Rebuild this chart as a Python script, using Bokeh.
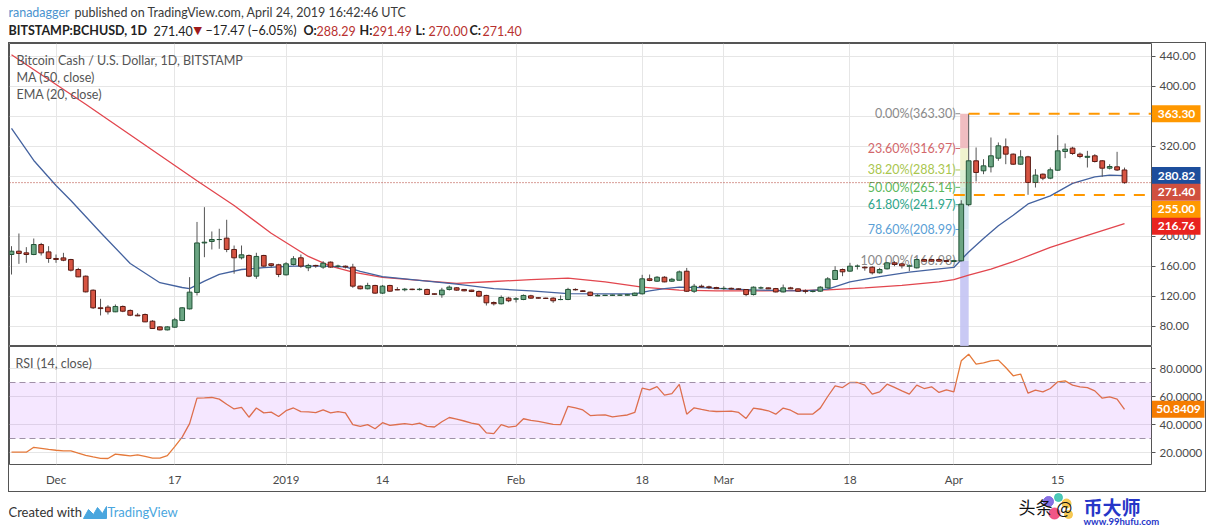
from bokeh.plotting import figure
from bokeh.layouts import column
from bokeh.models import (ColumnDataSource, Range1d, FixedTicker, Grid, Span, GridBox,
                          NumeralTickFormatter, BoxAnnotation)
from bokeh.core.properties import value
from bokeh.embed import file_html
from bokeh.resources import INLINE

# ---------------- data (daily candles, 2018-11-25 .. 2019-04-24) ----------------
opens = [175.6,180.0,177.8,175.6,188.9,179.1,170.3,171.1,168.9,155.6,
         146.7,128.0,104.5,105.4,99.2,106.3,101.0,94.7,95.6,86.7,
         79.1,75.1,78.7,87.6,103.1,125.0,191.0,193.0,195.5,197.4,
         182.3,171.2,174.3,146.7,174.3,163.2,161.9,148.5,162.3,171.2,
         157.9,161.0,158.8,165.4,160.0,160.0,158.8,133.4,129.9,134.3,
         124.1,134.3,128.8,128.6,129.4,128.8,129.0,123.2,121.9,129.0,
         131.2,129.0,128.1,126.3,121.0,111.6,109.9,117.4,116.1,115.6,
         120.5,117.9,117.4,117.4,115.5,115.6,129.0,127.2,125.4,120.5,
         121.0,121.2,121.4,121.4,121.0,123.2,143.2,140.0,145.3,140.0,
         141.3,153.3,126.6,133.3,132.5,131.5,130.2,130.5,129.7,128.9,
         122.2,131.0,131.1,130.2,125.7,131.1,129.8,127.1,126.3,126.7,
         131.1,142.3,155.6,153.4,160.0,158.7,158.7,151.2,156.5,164.5,
         163.1,160.0,157.8,168.9,168.9,168.9,167.5,166.3,167.2,242.0,
         300.5,287.2,292.5,304.0,319.2,309.4,296.0,305.8,271.6,282.7,
         277.4,288.0,313.0,317.4,309.4,305.2,307.2,300.5,290.7,292.5,
         288.29]
highs = [186.7,203.6,185.4,196.9,191.1,186.7,175.6,177.8,169.8,157.8,
         147.6,129.0,116.5,108.0,109.0,107.6,102.3,97.4,96.9,88.0,
         80.0,80.0,91.1,105.4,145.4,219.0,238.7,206.3,209.9,221.9,
         187.6,187.6,175.6,177.9,175.2,164.0,163.2,165.4,173.4,175.6,
         163.2,161.9,166.7,166.3,162.0,161.0,163.2,134.3,137.9,135.2,
         135.0,135.2,132.0,131.0,130.0,131.0,130.0,123.5,131.2,134.3,
         132.1,129.5,128.5,127.6,121.9,113.0,121.0,119.2,118.7,122.3,
         121.9,118.5,118.0,118.7,121.0,131.2,130.5,128.0,126.0,123.0,
         121.8,122.0,122.0,122.5,125.0,148.5,148.9,146.7,146.7,144.4,
         154.2,157.7,136.4,135.5,134.0,132.5,133.3,131.5,130.5,129.5,
         133.0,133.0,131.5,131.0,135.5,132.5,130.5,129.0,128.0,133.4,
         145.4,160.0,156.9,164.5,162.3,160.0,160.0,157.8,165.4,166.7,
         164.5,162.3,170.3,170.0,170.0,170.5,168.5,168.5,248.0,363.3,
         318.3,302.7,331.6,325.0,330.3,310.3,314.7,307.2,289.4,283.6,
         291.6,334.7,323.6,319.2,311.6,313.8,309.4,301.4,296.0,312.5,
         291.49]
lows = [148.9,163.1,164.5,174.7,174.3,164.5,164.5,166.7,153.0,145.4,
        125.0,103.0,94.3,95.6,98.7,98.7,93.4,93.4,85.4,76.5,
        74.3,74.3,77.8,86.7,102.3,121.0,172.0,182.3,183.2,178.7,
        150.0,169.0,145.4,143.2,159.2,158.3,145.4,147.6,161.0,157.9,
        153.4,157.9,156.5,157.9,157.5,157.0,131.2,129.0,129.0,123.2,
        123.0,125.9,128.0,126.5,128.0,127.5,121.8,122.0,117.9,127.6,
        127.2,126.5,125.5,118.7,107.6,107.6,109.0,112.1,111.6,114.7,
        116.5,116.8,116.5,111.2,114.7,114.7,127.5,125.8,120.0,120.0,
        120.2,120.5,120.8,121.0,120.5,122.3,140.0,139.0,138.6,139.0,
        140.9,125.7,124.4,131.0,129.5,129.5,128.5,129.2,128.5,120.0,
        121.0,129.5,129.5,125.0,125.0,129.5,126.0,123.6,125.0,125.8,
        130.2,142.0,146.7,152.5,155.6,154.0,148.9,150.2,155.6,160.0,
        157.0,153.4,157.0,165.5,166.0,166.0,165.5,165.5,166.3,240.0,
        273.0,282.7,285.0,300.5,296.0,295.0,295.2,255.2,264.9,274.7,
        276.0,287.0,304.0,308.5,304.0,291.6,298.3,279.2,289.0,287.0,
        270.0]
closes = [180.0,177.0,175.6,188.9,177.8,170.3,169.0,168.0,154.7,145.8,
          125.8,104.5,103.5,99.2,106.3,100.0,94.7,93.8,85.8,76.9,
          75.1,79.1,88.5,104.5,125.4,191.0,192.0,195.6,195.6,182.3,
          171.2,175.2,146.7,173.0,160.1,161.0,149.0,163.2,169.9,160.1,
          161.0,160.5,164.0,158.8,160.1,159.0,133.4,129.9,134.3,124.1,
          133.4,126.7,128.4,129.4,128.8,129.3,122.3,122.6,128.1,132.1,
          128.1,127.2,126.3,120.1,111.2,109.9,118.3,113.9,116.5,121.0,
          117.4,117.4,117.0,113.9,115.6,129.0,128.5,126.3,121.0,120.8,
          121.2,121.4,121.4,121.9,124.1,143.2,141.0,145.3,139.1,142.6,
          152.4,126.6,133.3,132.5,131.5,130.0,130.5,129.7,129.3,122.2,
          132.0,131.1,129.8,125.7,131.1,129.8,126.6,126.5,126.7,132.0,
          143.1,154.3,152.5,160.0,160.1,157.8,151.2,155.6,164.5,162.3,
          160.5,160.5,168.9,166.7,166.7,166.7,166.3,167.4,242.7,300.5,
          285.0,293.8,307.2,320.5,309.4,296.0,305.8,271.6,281.4,277.4,
          288.5,313.8,316.0,310.3,306.3,306.5,299.6,290.7,292.9,288.3,
          271.4]

# MA(50) and EMA(20) at sample days
ma_idx = [0,5,10,15,20,25,30,35,40,43,46,50,55,60,65,70,75,80,85,90,95,100,
          105,110,115,120,125,127,129,132,135,140,145,150]
ma_val = [442,409,376,342,308,274,241,204,173,160,152,145,141,137,139.6,142,144,
          139,132,128,127,127,127.5,128.5,131,134.5,139,142,148,156,166,185,201,216.76]
ema_idx = [0,3,6,8,12,16,20,23,24,26,28,31,34,38,42,45,47,50,55,60,65,70,75,80,
           84,86,88,90,93,97,100,104,107,110,113,117,121,125,127,129,131,133,135,
           137,140,143,146,148,150]
ema_val = [343.7,301,267.6,247.6,205,163.6,138,131.6,130,140,149,155.6,158,160,160,
           159,153,146,141,136,130,127,123.5,123,123,127,130,132,131.5,129.5,128.5,
           127.5,127,129.5,139,146,152,156.5,158.3,179,197,214,228,243,253.8,270.5,
           279,281.5,280.82]

# RSI(14) daily values
rsi = [20.2,20.2,20.2,23.7,23.0,22.2,21.6,21.2,21.1,19.5,
       18.0,16.8,15.8,15.7,18.8,18.2,17.6,18.3,17.2,16.0,
       16.0,17.8,24.2,31.0,40.6,58.8,59.0,59.3,58.1,54.5,
       51.1,52.3,45.2,51.8,48.3,48.8,45.7,49.9,51.8,49.2,
       49.0,48.5,50.4,48.3,49.2,48.3,39.9,38.7,39.9,37.0,
       41.3,39.4,40.0,40.6,39.9,41.0,38.7,38.2,42.0,45.0,
       43.8,42.5,41.0,40.0,34.0,33.5,39.9,38.2,38.9,44.1,
       43.0,42.2,41.2,40.1,39.9,53.0,51.8,50.4,46.4,46.7,
       46.9,45.5,46.2,46.8,48.6,66.0,64.8,67.1,61.0,62.1,
       68.6,47.4,51.9,50.8,49.8,49.3,49.4,49.5,48.6,44.3,
       51.7,50.9,49.8,47.4,51.7,50.2,47.4,47.4,47.5,51.7,
       60.0,67.6,66.4,70.0,70.0,68.1,61.7,63.3,68.8,66.5,
       64.0,61.7,68.1,65.7,66.9,62.9,64.8,63.3,85.5,90.2,
       83.1,84.0,85.5,86.0,80.7,74.8,76.0,62.4,64.5,63.3,
       65.7,70.5,71.2,68.1,66.9,66.4,64.0,58.8,59.8,58.1,
       50.84]

tick_idx = [6, 22, 37, 50, 68, 85, 96, 113, 127, 141]
tick_labels = ["Dec", "17", "2019", "14", "Feb", "18", "Mar", "18", "Apr", "15"]
price_ticks = [80, 120, 160, 200, 240, 280, 320, 360, 400, 440]
rsi_ticks = [20, 40, 60, 80]

fib_pct = ["0.00%", "23.60%", "38.20%", "50.00%", "61.80%", "78.60%", "100.00%"]
fib_price = [363.30, 316.97, 288.31, 265.14, 241.97, 208.99, 166.98]
fib_text_colors = ["#8a8a8a", "#d2676b", "#a9c64e", "#5cb85c", "#2ea58a", "#5b9fd6", "#8a8a8a"]
fib_band_colors = ["#eeb6ba", "#eef2c9", "#d7eed0", "#cdeadb", "#d0e6ee", "#d6e1f6"]

support_price = 255.00
resistance_price = 363.30
last_close = 271.40
last_ema = 280.82
last_ma = 216.76
last_rsi = 50.8409

# price-axis value tags: value, colour, downward shift (px) to avoid overlap
tag_values = [resistance_price, last_ema, last_close, support_price, last_ma]
tag_colors = ["#ff9800", "#1d4e9c", "#d0503f", "#ff9800", "#e8231f"]
tag_shift_px = [0, 0, 9.5, 14.5, 2.5]

# ---------------- geometry ----------------
FW = 1142      # plot-frame width
AXW = 54       # price-axis width
PPD = 7.42     # pixels per day
X0 = -(11 - 9) / PPD
X1 = X0 + FW / PPD
FONT = "Lato"
PX_PER_PRICE = 0.75
PX_PER_RSI = 1.4

def px_x(px):
    return X0 + (px - 9) / PPD

def py_price(py):
    return 440 - (py - 55.7) / PX_PER_PRICE

def py_rsi(py):
    return 80 - (py - 368) / PX_PER_RSI

P_TOP, P_BOT = py_price(43), py_price(346)
R_TOP, R_BOT = py_rsi(346), py_rsi(464)

GRID = "#e6e6e6"
AXIS_TXT = "#4a4a4a"

# ---------------- header ----------------
HH = 38
hdr = figure(width=1198, height=HH, x_range=Range1d(0, 1198), y_range=Range1d(HH, 0),
             x_axis_location=None, y_axis_location=None, toolbar_location=None,
             output_backend="svg", min_border=0, outline_line_color=None)
hdr.grid.visible = False

def htext(fig, x, y, t, color="#333333", size="12.5px", style="normal", font=FONT, align="left"):
    fig.text(x=[x], y=[y], text=[t], text_color=color, text_font=value(font),
             text_font_size=size, text_font_style=style, text_baseline="middle",
             text_align=align)

htext(hdr, 0, 8, "ranadagger", color="#4a93cf")
htext(hdr, 66, 8, "published on TradingView.com, April 24, 2019 16:42:46 UTC", color="#3a3a3a")
htext(hdr, 0, 26, "BITSTAMP:BCHUSD, 1D", color="#222222", style="bold")
htext(hdr, 145, 26, "271.40", color="#222222")
htext(hdr, 185, 26, "\u25BC", color="#9e1b1b", size="11px", font="DejaVu Sans")
htext(hdr, 197, 26, "\u221217.47 (\u22126.05%)", color="#222222")
for lab, val, xl in [("O:", "288.29", 295), ("H:", "291.49", 351),
                     ("L:", "270.00", 407), ("C:", "271.40", 461)]:
    htext(hdr, xl, 26, lab, color="#222222", style="bold")
    htext(hdr, xl + 13, 26, val, color="#b8312f")

# ---------------- main price pane ----------------
p = figure(frame_width=FW, frame_height=303, x_range=Range1d(X0, X1),
           y_range=Range1d(P_BOT, P_TOP), y_axis_location="right", x_axis_location=None,
           toolbar_location=None, output_backend="svg", min_border_left=0,
           min_border_right=AXW, min_border_top=0, min_border_bottom=0,
           outline_line_color="#555555", background_fill_color="white")
p.grid.visible = False
p.add_layout(Grid(dimension=0, ticker=FixedTicker(ticks=tick_idx), grid_line_color=GRID))
p.add_layout(Grid(dimension=1, ticker=FixedTicker(ticks=price_ticks), grid_line_color=GRID))
ax = p.yaxis[0]
ax.ticker = FixedTicker(ticks=price_ticks)
ax.formatter = NumeralTickFormatter(format="0.00")
ax.major_label_text_font = FONT
ax.major_label_text_font_size = "11.5px"
ax.major_label_text_color = AXIS_TXT
ax.axis_line_color = None
ax.major_tick_in = 0
ax.major_tick_out = 4
ax.major_tick_line_color = "#555555"
ax.minor_tick_line_color = None
ax.major_label_standoff = 4

# fibonacci column
fib_l, fib_r = 127.85, 129.0
p.quad(left=[fib_l] * 6, right=[fib_r] * 6, top=fib_price[:-1], bottom=fib_price[1:],
       fill_color=fib_band_colors, fill_alpha=0.9, line_color=None)
p.quad(left=[fib_l], right=[fib_r], top=[fib_price[-1]], bottom=[P_BOT],
       fill_color="#c3c3f3", fill_alpha=0.9, line_color=None)
p.segment(x0=[px_x(955)] * 7, x1=[fib_l] * 7, y0=fib_price, y1=fib_price,
          line_color=fib_text_colors, line_width=1)
p.text(x=[px_x(955)] * 7, y=fib_price,
       text=[f"{a}({b:.2f})" for a, b in zip(fib_pct, fib_price)],
       text_color=fib_text_colors, text_font=value(FONT), text_font_size="12.5px",
       text_align="right", text_baseline="middle")

# current-price dotted line
p.add_layout(Span(location=last_close, dimension="width", line_color="#b03a2e",
                  line_dash="1 2", line_width=1))

# moving averages
p.line(ma_idx, ma_val, line_color="#e2464e", line_width=1.3)
p.line(ema_idx, ema_val, line_color="#44629f", line_width=1.3)

# candles
idx = list(range(len(closes)))
up = [c >= o for o, c in zip(opens, closes)]
src = ColumnDataSource(dict(
    x=idx, h=highs, l=lows,
    top=[max(o, c) for o, c in zip(opens, closes)],
    bottom=[min(o, c) for o, c in zip(opens, closes)],
    fill=["#6ba583" if u else "#d75442" for u in up],
    line=["#225437" if u else "#5b1a13" for u in up],
))
p.segment(x0="x", y0="l", x1="x", y1="h", source=src, line_color="#555555", line_width=1)
p.vbar(x="x", width=0.64, top="top", bottom="bottom", fill_color="fill",
       line_color="line", line_width=1, source=src)

# orange support / resistance dashed lines
p.segment(x0=[129.0, 127.0], x1=[X1, X1], y0=[resistance_price, support_price],
          y1=[resistance_price, support_price], line_color="#ff9800", line_width=2,
          line_dash="11 9")

# pane legend
for t, py in [("Bitcoin Cash / U.S. Dollar, 1D, BITSTAMP", 60),
              ("MA (50, close)", 77), ("EMA (20, close)", 94)]:
    p.text(x=[px_x(16)], y=[py_price(py)], text=[t], text_color="#555555",
           text_font=value(FONT), text_font_size="12.5px", text_baseline="middle")

# overlay over main pane + price axis (same y scale) for the value tags
ov1 = figure(frame_width=FW + AXW, frame_height=303, x_range=Range1d(0, FW + AXW),
             y_range=p.y_range, x_axis_location=None, y_axis_location=None,
             toolbar_location=None, output_backend="svg", min_border=0,
             background_fill_color=None, border_fill_color=None, outline_line_color=None)
ov1.grid.visible = False
tag_center = [v - s / PX_PER_PRICE for v, s in zip(tag_values, tag_shift_px)]
half = 8.5 / PX_PER_PRICE
ov1.quad(left=[FW + 0.5] * 5, right=[FW + 49] * 5, top=[c + half for c in tag_center],
         bottom=[c - half for c in tag_center], fill_color=tag_colors, line_color=None)
ov1.text(x=[FW + 25] * 5, y=tag_center, text=[f"{v:.2f}" for v in tag_values],
         text_color="white", text_font=value(FONT), text_font_size="12px",
         text_font_style="bold", text_align="center", text_baseline="middle")

# ---------------- RSI pane ----------------
r = figure(frame_width=FW, frame_height=118, x_range=p.x_range,
           y_range=Range1d(R_BOT, R_TOP), y_axis_location="right",
           toolbar_location=None, output_backend="svg", min_border_left=0,
           min_border_right=AXW, min_border_top=0, min_border_bottom=27,
           outline_line_color="#555555")
r.grid.visible = False
r.add_layout(Grid(dimension=0, ticker=FixedTicker(ticks=tick_idx), grid_line_color=GRID))
r.add_layout(BoxAnnotation(bottom=30, top=70, fill_color="#9915ff", fill_alpha=0.1, line_color=None))
r.add_layout(Grid(dimension=1, ticker=FixedTicker(ticks=rsi_ticks), grid_line_color=GRID))
for lvl in (70, 30):
    r.add_layout(Span(location=lvl, dimension="width", line_color="#a090a8",
                      line_dash="6 4", line_width=1))
r.line(idx, rsi, line_color="#e5793a", line_width=1.3)
r.text(x=[px_x(15)], y=[py_rsi(363)], text=["RSI (14, close)"], text_color="#555555",
       text_font=value(FONT), text_font_size="12.5px", text_baseline="middle")

ry = r.yaxis[0]
ry.ticker = FixedTicker(ticks=rsi_ticks)
ry.formatter = NumeralTickFormatter(format="0.0000")
ry.major_label_text_font = FONT
ry.major_label_text_font_size = "11.5px"
ry.major_label_text_color = AXIS_TXT
ry.axis_line_color = None
ry.major_tick_in = 0
ry.major_tick_out = 4
ry.major_tick_line_color = "#555555"
ry.minor_tick_line_color = None
ry.major_label_standoff = 4

rx = r.xaxis[0]
rx.ticker = FixedTicker(ticks=tick_idx)
rx.major_label_overrides = {t: lab for t, lab in zip(tick_idx, tick_labels)}
rx.major_label_text_font = FONT
rx.major_label_text_font_size = "11.5px"
rx.major_label_text_color = AXIS_TXT
rx.axis_line_color = None
rx.major_tick_in = 0
rx.major_tick_out = 0
rx.minor_tick_line_color = None
rx.major_label_standoff = 8

ov2 = figure(frame_width=FW + AXW, frame_height=118, x_range=Range1d(0, FW + AXW),
             y_range=r.y_range, x_axis_location=None, y_axis_location=None,
             toolbar_location=None, output_backend="svg", min_border=0,
             min_border_bottom=27, background_fill_color=None, border_fill_color=None,
             outline_line_color=None)
ov2.grid.visible = False
rhalf = 8.5 / PX_PER_RSI
ov2.quad(left=[FW + 0.5], right=[FW + 53], top=[last_rsi + rhalf], bottom=[last_rsi - rhalf],
         fill_color="#f57c00", line_color=None)
ov2.text(x=[FW + 27], y=[last_rsi], text=[f"{last_rsi:.4f}"], text_color="white",
         text_font=value(FONT), text_font_size="12px", text_font_style="bold",
         text_align="center", text_baseline="middle")

boxed = GridBox(children=[(p, 0, 0), (ov1, 0, 0), (r, 1, 0), (ov2, 1, 0)],
                styles={"border": "1px solid #555555"})

# ---------------- footer ----------------
ftr = figure(width=1198, height=34, x_range=Range1d(0, 1198), y_range=Range1d(34, 0),
             x_axis_location=None, y_axis_location=None, toolbar_location=None,
             output_backend="svg", min_border=0, outline_line_color=None)
ftr.grid.visible = False
htext(ftr, 0, 19, "Created with", color="#333333", size="13px")
ftr.patch(x=[75, 80, 85, 89, 94, 98, 98, 75], y=[26, 17, 22, 15, 21, 14, 26, 26],
          fill_color="#4aa6de", line_color="#4aa6de")
htext(ftr, 99, 19, "TradingView", color="#4aa6de", size="13px")
# watermark
ftr.scatter(x=[1040, 1050, 1058, 1046, 1060], y=[9, 5, 11, 21, 22],
            size=[10, 8, 9, 11, 8], color=["#7b62e0", "#3cc3b0", "#f6c342", "#f0447a", "#f6c342"],
            alpha=0.9)
htext(ftr, 1010, 14, "\u5934\u6761 @", color="#111111", size="17px", font="Noto Sans CJK SC")
htext(ftr, 1075, 14, "\u5e01\u5927\u5e08", color="#2636c8", size="19px",
      style="bold", font="Noto Sans CJK SC")
htext(ftr, 1075, 29, "www.99hufu.com", color="#2636c8", size="9.5px", style="bold")

layout = column(hdr, boxed, ftr, margin=(4, 0, 0, 8))
open("out.html", "w").write(file_html(layout, INLINE))
